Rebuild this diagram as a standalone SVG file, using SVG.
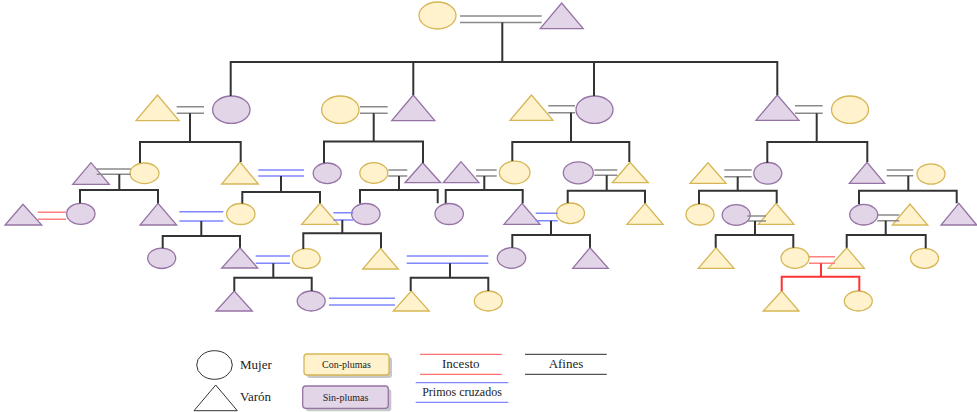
<svg xmlns="http://www.w3.org/2000/svg" width="977" height="412" viewBox="0 0 977 412">
<style>
.y{fill:#fff2cc;stroke:#d6b656;stroke-width:1.3}
.p{fill:#e1d5e7;stroke:#9673a6;stroke-width:1.3}
.m{stroke:#8a8a8a;stroke-width:1.6;fill:none}
.d{stroke:#333;stroke-width:2;fill:none}
.b{stroke:#7f86ff;stroke-width:1.6;fill:none}
.r{stroke:#ff8080;stroke-width:1.6;fill:none}
.rd{stroke:#ff3333;stroke-width:2;fill:none}
.lg{fill:#fff;stroke:#333;stroke-width:1}
.t{font-family:"Liberation Serif",serif;fill:#222}
.sh{fill:#000;opacity:0.22}
</style>
<g id="nodes">
<g id="n0a"><ellipse class="y" cx="437.5" cy="15.5" rx="18.5" ry="13.5"/></g>
<g id="n0b"><polygon class="p" points="561.7,3 540.2,28.7 583.2,28.7"/></g>
<g id="a1"><polygon class="y" points="157.5,95 136,120.7 179,120.7"/></g>
<g id="a2"><ellipse class="p" cx="231.3" cy="109.7" rx="18.7" ry="13.7"/></g>
<g id="b1"><ellipse class="y" cx="340.3" cy="109.7" rx="18.7" ry="13.7"/></g>
<g id="b2"><polygon class="p" points="413.3,95 391.8,120.7 434.8,120.7"/></g>
<g id="c1"><polygon class="y" points="531.5,95 510,120.3 553,120.3"/></g>
<g id="c2"><ellipse class="p" cx="594.5" cy="109.7" rx="18.5" ry="13.7"/></g>
<g id="d1"><polygon class="p" points="777.3,95 756,120.3 799,120.3"/></g>
<g id="d2"><ellipse class="y" cx="850" cy="109.7" rx="18.5" ry="13.7"/></g>

<g id="aa1"><polygon class="p" points="91,162.7 72.7,184.3 109.3,184.3"/></g>
<g id="aa2"><ellipse class="y" cx="144.5" cy="173.3" rx="14.5" ry="10.3"/></g>
<g id="ab"><polygon class="y" points="240,162 221.7,184 258.3,184"/></g>
<g id="ba"><ellipse class="p" cx="327.2" cy="173.3" rx="14" ry="10.3"/></g>
<g id="bb1"><ellipse class="y" cx="373.8" cy="173" rx="14" ry="10.3"/></g>
<g id="bb2"><polygon class="p" points="422.7,162.7 405,182.7 440.7,182.7"/></g>
<g id="ca1"><polygon class="p" points="461,161.7 443.3,182.7 479,182.7"/></g>
<g id="ca2"><ellipse class="y" cx="514.7" cy="172.5" rx="15.3" ry="11.3"/></g>
<g id="cb1"><ellipse class="p" cx="578.3" cy="172.8" rx="15" ry="11"/></g>
<g id="cb2"><polygon class="y" points="630,162.3 612.3,182.7 648.3,182.7"/></g>
<g id="da1"><polygon class="y" points="708,162.7 690,183.3 726,183.3"/></g>
<g id="da2"><ellipse class="p" cx="767.8" cy="173.3" rx="14" ry="10.8"/></g>
<g id="db1"><polygon class="p" points="867,162.3 849.3,183.3 884.7,183.3"/></g>
<g id="db2"><ellipse class="y" cx="931" cy="174" rx="14" ry="10.2"/></g>

<g id="rs"><polygon class="p" points="23,204.3 5,225 41.7,225"/></g>
<g id="aac1"><ellipse class="p" cx="80.8" cy="213.8" rx="14.2" ry="10.5"/></g>
<g id="aac2"><polygon class="p" points="158,203.3 140,225 176.7,225"/></g>
<g id="abs"><ellipse class="y" cx="240.8" cy="214" rx="14.2" ry="10.5"/></g>
<g id="bac2"><polygon class="y" points="320,203.3 301.7,224.3 338.3,224.3"/></g>
<g id="bbc1"><ellipse class="p" cx="365.8" cy="214" rx="14.2" ry="10.5"/></g>
<g id="bbc2"><ellipse class="p" cx="449.2" cy="214" rx="14.2" ry="10.5"/></g>
<g id="cac2"><polygon class="p" points="522,203.3 504,224.3 540,224.3"/></g>
<g id="cbc1"><ellipse class="y" cx="570.5" cy="213.3" rx="14" ry="10.3"/></g>
<g id="cbc2"><polygon class="y" points="645,203.3 627,224.3 663,224.3"/></g>
<g id="dac1"><ellipse class="y" cx="700" cy="214.5" rx="14" ry="10.5"/></g>
<g id="daa"><ellipse class="p" cx="736.2" cy="215" rx="14" ry="10.3"/></g>
<g id="dac2"><polygon class="y" points="776,203.3 758.3,224.3 794,224.3"/></g>
<g id="dbc1"><ellipse class="p" cx="863.7" cy="214.7" rx="14" ry="10.3"/></g>
<g id="dbb"><polygon class="y" points="910,204 892.3,225 927.7,225"/></g>
<g id="dbc2"><polygon class="p" points="958.8,203.3 941,225 976.7,225"/></g>

<g id="e1"><ellipse class="p" cx="161.7" cy="258.3" rx="14" ry="10.2"/></g>
<g id="e2"><polygon class="p" points="240,247.7 221.7,268 257.7,268"/></g>
<g id="e3"><ellipse class="y" cx="306.2" cy="258.6" rx="14" ry="10"/></g>
<g id="e4"><polygon class="y" points="380.5,248.3 362.7,269 398.3,269"/></g>
<g id="e5"><ellipse class="p" cx="511.5" cy="258" rx="14.2" ry="10.3"/></g>
<g id="e6"><polygon class="p" points="590,247.7 572.7,268.3 608.3,268.3"/></g>
<g id="e7"><polygon class="y" points="716,247.7 698.3,268.3 734,268.3"/></g>
<g id="e8"><ellipse class="y" cx="795" cy="258" rx="14" ry="10.3"/></g>
<g id="e9"><polygon class="y" points="846.7,247.7 828.3,268.3 864.3,268.3"/></g>
<g id="e10"><ellipse class="y" cx="924.5" cy="258.3" rx="14" ry="10"/></g>

<g id="f1"><polygon class="p" points="234.2,291 216,311 252.3,311"/></g>
<g id="f2"><ellipse class="p" cx="311.2" cy="301" rx="14" ry="10"/></g>
<g id="f3"><polygon class="y" points="411.3,291 393.3,311 429.3,311"/></g>
<g id="f4"><ellipse class="y" cx="488.3" cy="301" rx="14" ry="10"/></g>
<g id="f5"><polygon class="y" points="781.7,291 763.3,311 799,311"/></g>
<g id="f6"><ellipse class="y" cx="858.3" cy="301" rx="14" ry="10"/></g>
</g>

<g id="connectors">
<!-- gray marriages -->
<path class="m" d="M460,16H541.7M460,22.5H541.7"/>
<path class="m" d="M176.7,106.7H204M176.7,113.3H204"/>
<path class="m" d="M360,106.7H387.7M360,113.3H387.7"/>
<path class="m" d="M548.3,105.7H575M548.3,112.7H575"/>
<path class="m" d="M795,105.7H822.7M795,113.3H822.7"/>
<path class="m" d="M96.7,169H130.7M96.7,174.3H130.7"/>
<path class="m" d="M388.3,170H407.3M388.3,176H407.3"/>
<path class="m" d="M476,170H496.7M476,176H496.7"/>
<path class="m" d="M594.3,170H617.3M594.3,175.3H617.3"/>
<path class="m" d="M724.3,170H751.7M724.3,176.7H751.7"/>
<path class="m" d="M886.7,170H913.3M886.7,175.7H913.3"/>
<path class="m" d="M747.3,216H766M747.3,221H766"/>
<path class="m" d="M877.3,215H899.3M877.3,220.7H899.3"/>
<!-- blue marriages -->
<path class="b" d="M258.3,170H304M258.3,176H304"/>
<path class="b" d="M179.3,211.7H223.3M179.3,221H223.3"/>
<path class="b" d="M333.3,212.7H353.3M333.3,220H353.3"/>
<path class="b" d="M535.7,213.3H557.7M535.7,220.7H557.7"/>
<path class="b" d="M255.7,256H290M255.7,263.3H290"/>
<path class="b" d="M406.7,256H488.3M406.7,263.3H488.3"/>
<path class="b" d="M329,298.3H395M329,305H395"/>
<!-- red marriages -->
<path class="r" d="M37.7,212.3H66M37.7,219.3H66"/>
<path class="r" d="M809,256.7H835M809,263.3H835"/>
<!-- descent lines -->
<path class="d" d="M502.3,22.5V62M230.7,96V62H777.3V95M413.3,62V95M594,62V96"/>
<path class="d" d="M190,113.3V142M140,163V142H240.7V162"/>
<path class="d" d="M373.7,113.3V141.5M324,163V141.5H423V163"/>
<path class="d" d="M571,112.7V142M512.3,161V142H629.3V162"/>
<path class="d" d="M816.7,113.3V142M767.3,163V142H867.3V162"/>
<path class="d" d="M119.3,174.3V190M80,203.3V190H158V203.3"/>
<path class="d" d="M281,176V192M242.3,203.5V192H320V203.3"/>
<path class="d" d="M399,176V190M360,203.5V190H437.7V203.3"/>
<path class="d" d="M484.3,176V190M445.7,203.3V190H522.7V203.3"/>
<path class="d" d="M606.7,175.3V190.7M567.7,203V190.7H645V203.3"/>
<path class="d" d="M737.7,176.7V190.7M699,204V190.7H776.7V203.3"/>
<path class="d" d="M908.3,175.7V190.7M859,204.3V190.7H956.7V203.3"/>
<path class="d" d="M201.3,221V236M162.7,248.3V236H240V247.7"/>
<path class="d" d="M342.3,220V233.3M303.3,249V233.3H381V248.3"/>
<path class="d" d="M551,220.7V235M512.3,247.7V235H590V247.7"/>
<path class="d" d="M755,221V235M715.7,247.7V235H793.3V247.7"/>
<path class="d" d="M885.7,220.7V235M846.7,247.7V235H925.7V248.3"/>
<path class="d" d="M273.3,263.3V277.7M234.3,291V277.7H311.7V291"/>
<path class="d" d="M450,263.3V277.7M410.7,291V277.7H488.3V291"/>
<path class="rd" d="M821,263.3V276.7M781.7,291V276.7H859.3V291"/>
</g>

<g id="legend">
<ellipse class="lg" cx="214.5" cy="365" rx="17.8" ry="14.3"/>
<text class="t" x="240" y="369" font-size="13">Mujer</text>
<polygon class="lg" points="215.7,385 194,410.7 237.3,410.7"/>
<text class="t" x="240" y="401" font-size="13">Varón</text>
<rect class="sh" x="307" y="357" width="85" height="21" rx="3"/>
<rect class="y" x="304" y="354" width="85" height="21" rx="3"/>
<text class="t" x="346.5" y="368" font-size="10" text-anchor="middle">Con-plumas</text>
<rect class="sh" x="305.7" y="389" width="85.6" height="22.3" rx="3"/>
<rect class="p" x="302.7" y="386" width="85.6" height="22.3" rx="3"/>
<text class="t" x="345.5" y="401" font-size="10" text-anchor="middle">Sin-plumas</text>
<path class="rd" style="stroke:#ff7070;stroke-width:1.3" d="M420,354.3H501.7M420,374.3H501.7"/>
<text class="t" x="460.8" y="368" font-size="13" text-anchor="middle">Incesto</text>
<path class="b" style="stroke-width:1.3" d="M415.7,382.7H508.3M415.7,402.3H508.3"/>
<text class="t" x="462" y="396" font-size="12" text-anchor="middle">Primos cruzados</text>
<path class="d" style="stroke:#555;stroke-width:1.3" d="M525,354.3H606.7M525,374.3H606.7"/>
<text class="t" x="566" y="368" font-size="13" text-anchor="middle">Afines</text>
</g>
</svg>
